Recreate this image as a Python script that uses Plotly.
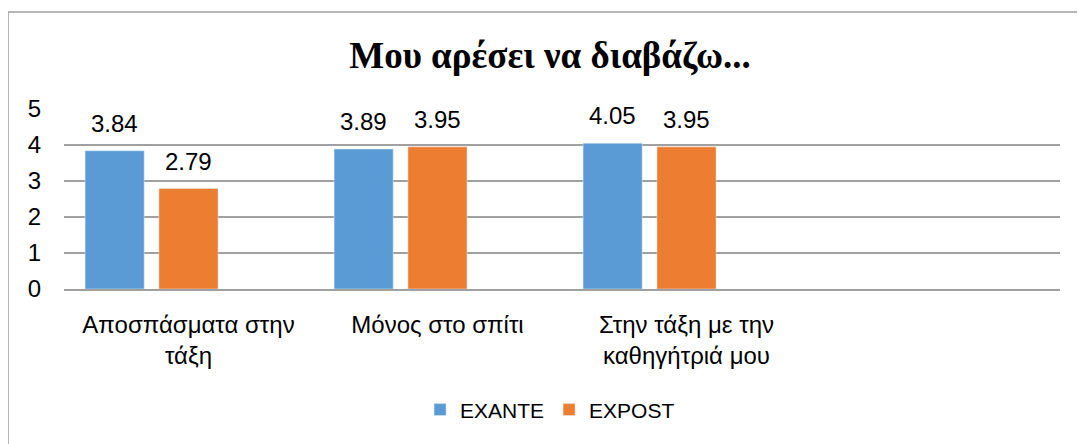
import plotly.graph_objects as go

categories = ["Αποσπάσματα στην<br>τάξη", "Μόνος στο σπίτι", "Στην τάξη με την<br>καθηγήτριά μου"]
exante = [3.84, 3.89, 4.05]
expost = [2.79, 3.95, 3.95]
y_ticks = [0, 1, 2, 3, 4, 5]
title = "Μου αρέσει να διαβάζω..."

BLUE = "#5B9BD5"
ORANGE = "#ED7D31"
SANS = "Liberation Sans, Arial, sans-serif"

L, R, T, B = 56, 33, 101, 163
PW = 1085 - L - R
PH = 444 - T - B

fig = go.Figure()
fig.add_trace(go.Bar(name="EXANTE", x=categories, y=exante, marker_color=BLUE))
fig.add_trace(go.Bar(name="EXPOST", x=categories, y=expost, marker_color=ORANGE))
# empty third series slot (as in the original chart)
fig.add_trace(go.Bar(name="", x=categories, y=[None] * len(categories),
                     showlegend=False, hoverinfo="skip"))

annotations = []
for vals, xs in ((exante, -74), (expost, 0)):
    for c, v in zip(categories, vals):
        annotations.append(dict(x=c, y=v, xref="x", yref="y", text=f"{v:.2f}",
                                showarrow=False, xshift=xs, yshift=12,
                                yanchor="bottom", font=dict(family=SANS, size=24, color="#000")))

fig.update_layout(
    width=1085, height=444,
    margin=dict(l=L, r=R, t=T, b=B),
    paper_bgcolor="white", plot_bgcolor="white",
    barmode="group", bargap=0.11, bargroupgap=0.2,
    title=dict(text=f"<b>{title}</b>", x=(550 - 8) / 1085, xanchor="center", y=0.893, yanchor="middle",
               font=dict(family="Liberation Serif, Times New Roman, serif", size=37, color="#000")),
    xaxis=dict(type="category", categoryorder="array", categoryarray=categories,
               range=[-0.5, 3.5], showgrid=False, showline=True, linecolor="#a0a0a0", linewidth=1.5,
               ticks="", ticklabelstandoff=13,
               tickfont=dict(family=SANS, size=24, color="#000"), fixedrange=True),
    yaxis=dict(range=[0, 5], tickvals=y_ticks, showgrid=True, gridcolor="#a0a0a0", gridwidth=1.5,
               zeroline=False, showline=False, ticks="", ticklabelstandoff=22,
               tickfont=dict(family=SANS, size=24, color="#000")),
    legend=dict(orientation="h", x=0.488, xanchor="center", y=-0.672, yanchor="middle",
                font=dict(family=SANS, size=21, color="#000"), traceorder="normal"),
    annotations=annotations,
    shapes=[dict(type="rect", xref="paper", yref="paper",
                 x0=-L / PW, x1=1.2, y0=-1.5, y1=(444 - B - 4) / PH,
                 line=dict(color="#a0a0a0", width=1.5), fillcolor="rgba(0,0,0,0)", layer="below")],
)

fig.write_html("out.html")
